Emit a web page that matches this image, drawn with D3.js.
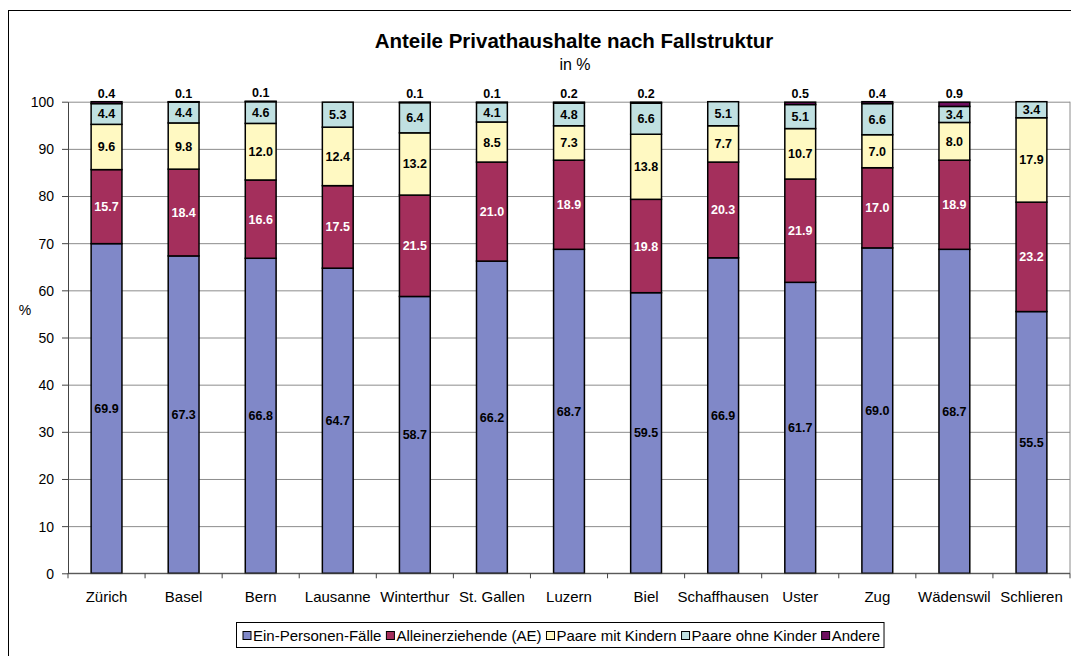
<!DOCTYPE html>
<html>
<head>
<meta charset="utf-8">
<script src="https://cdn.jsdelivr.net/npm/d3@7"></script>
<style>
  body { margin: 0; background: #fff; }
  svg { font-family: Arial, "Liberation Sans", sans-serif; }
  .grid line { stroke: #8c8c8c; }
  .grid path { display: none; }
  .axis path, .axis line { stroke: #444; }
  .axis text { font-size: 14px; fill: #000; }
  .axis text.xlabel { font-size: 15px; }
  .barlabel { font-size: 12.5px; font-weight: bold; text-anchor: middle; }
</style>
</head>
<body>
<div id="chart"></div>
<script>
// values (in %)
var cities = ["Zürich", "Basel", "Bern", "Lausanne", "Winterthur", "St. Gallen", "Luzern",
  "Biel", "Schaffhausen", "Uster", "Zug", "Wädenswil", "Schlieren"];
var einPersonen = [69.9, 67.3, 66.8, 64.7, 58.7, 66.2, 68.7, 59.5, 66.9, 61.7, 69.0, 68.7, 55.5];
var alleinerziehende = [15.7, 18.4, 16.6, 17.5, 21.5, 21.0, 18.9, 19.8, 20.3, 21.9, 17.0, 18.9, 23.2];
var paareMitKindern = [9.6, 9.8, 12.0, 12.4, 13.2, 8.5, 7.3, 13.8, 7.7, 10.7, 7.0, 8.0, 17.9];
var paareOhneKinder = [4.4, 4.4, 4.6, 5.3, 6.4, 4.1, 4.8, 6.6, 5.1, 5.1, 6.6, 3.4, 3.4];
var andere = [0.4, 0.1, 0.1, null, 0.1, 0.1, 0.2, 0.2, null, 0.5, 0.4, 0.9, null];

var seriesNames = ["Ein-Personen-Fälle", "Alleinerziehende (AE)", "Paare mit Kindern",
  "Paare ohne Kinder", "Andere"];
var seriesColors = ["#8088c8", "#a42f5c", "#fff9c2", "#c0e0e1", "#6e0f5f"];
var labelColors = ["#000", "#fff", "#000", "#000", "#000"];
var yTicks = [0, 10, 20, 30, 40, 50, 60, 70, 80, 90, 100];

var width = 1071, height = 656;
var plot = { left: 68, right: 1070, top: 101.7, bottom: 573.3 };

var keys = ["s0", "s1", "s2", "s3", "s4"];
var rows = cities.map(function (c, i) {
  return {
    city: c,
    s0: einPersonen[i],
    s1: alleinerziehende[i],
    s2: paareMitKindern[i],
    s3: paareOhneKinder[i],
    s4: andere[i] == null ? 0 : andere[i],
    raw4: andere[i]
  };
});

var svg = d3.select("#chart").append("svg")
  .attr("width", width)
  .attr("height", height);

// outer chart frame
svg.append("rect")
  .attr("x", 8.5).attr("y", 10.5)
  .attr("width", 1100).attr("height", 700)
  .attr("fill", "none").attr("stroke", "#000");

var x = d3.scaleBand()
  .domain(cities)
  .range([plot.left, plot.right])
  .paddingInner(0.6)
  .paddingOuter(0.3);

var y = d3.scaleLinear().domain([0, 100]).range([plot.bottom, plot.top]);

// gridlines
svg.append("g")
  .attr("class", "grid")
  .attr("transform", "translate(" + plot.left + ",0)")
  .call(d3.axisLeft(y).tickValues(yTicks).tickSize(-(plot.right - plot.left)).tickFormat(""));

// plot area border on the right
svg.append("line")
  .attr("x1", plot.right).attr("x2", plot.right)
  .attr("y1", y(100)).attr("y2", y(0))
  .attr("stroke", "#8c8c8c");

// stacked bars
var stacked = d3.stack().keys(keys)(rows);

var groups = svg.selectAll("g.series")
  .data(stacked)
  .enter()
  .append("g")
  .attr("class", "series")
  .attr("fill", function (d, i) { return seriesColors[i]; });

groups.selectAll("rect")
  .data(function (d) { return d.filter(function (v) { return v[1] - v[0] > 0; }); })
  .enter()
  .append("rect")
  .attr("x", function (d) { return x(d.data.city); })
  .attr("y", function (d) { return y(d[1]); })
  .attr("width", x.bandwidth())
  .attr("height", function (d) { return y(d[0]) - y(d[1]); })
  .attr("stroke", "#000")
  .attr("stroke-width", 1.5);

// value labels
groups.each(function (s, i) {
  d3.select(this).selectAll("text")
    .data(s.filter(function (v) { return i < 4 || v.data.raw4 != null; }))
    .enter()
    .append("text")
    .attr("class", "barlabel")
    .attr("fill", labelColors[i])
    .attr("x", function (d) { return x(d.data.city) + x.bandwidth() / 2; })
    .attr("y", function (d) {
      if (i === 4) return y(d[1]) - 4;
      return y((d[0] + d[1]) / 2) + 4.5;
    })
    .text(function (d) { return (d[1] - d[0]).toFixed(1); });
});

// y axis
svg.append("g")
  .attr("class", "axis")
  .attr("transform", "translate(" + plot.left + ",0)")
  .call(d3.axisLeft(y).tickValues(yTicks).tickSize(6).tickPadding(8).tickSizeOuter(0))
  .selectAll("text").attr("dy", "0.35em");

// x axis: baseline, ticks between categories, labels centered
var xAxis = svg.append("g").attr("class", "axis");
xAxis.append("line")
  .attr("x1", plot.left).attr("x2", plot.right)
  .attr("y1", y(0)).attr("y2", y(0));
xAxis.selectAll("line.tick")
  .data(cities.concat(["end"]))
  .enter()
  .append("line")
  .attr("class", "tick")
  .attr("x1", function (d, i) { return plot.left + i * x.step(); })
  .attr("x2", function (d, i) { return plot.left + i * x.step(); })
  .attr("y1", y(0)).attr("y2", y(0) + 5);
xAxis.selectAll("text")
  .data(cities)
  .enter()
  .append("text")
  .attr("class", "xlabel")
  .attr("x", function (d) { return x(d) + x.bandwidth() / 2; })
  .attr("y", 602)
  .attr("text-anchor", "middle")
  .text(function (d) { return d; });

svg.append("text")
  .attr("x", 25).attr("y", 315)
  .attr("text-anchor", "middle")
  .style("font-size", "14px")
  .text("%");

// title
svg.append("text")
  .attr("x", 574).attr("y", 48)
  .attr("text-anchor", "middle")
  .style("font-size", "20.5px").style("font-weight", "bold")
  .text("Anteile Privathaushalte nach Fallstruktur");
svg.append("text")
  .attr("x", 575).attr("y", 70)
  .attr("text-anchor", "middle")
  .style("font-size", "16px")
  .text("in %");

// legend
var legend = svg.append("g");
var legendBox = legend.append("rect")
  .attr("fill", "#fff").attr("stroke", "#000");
var lx = 243;
seriesNames.forEach(function (name, i) {
  legend.append("rect")
    .attr("x", lx).attr("y", 631.5)
    .attr("width", 8).attr("height", 8)
    .attr("fill", seriesColors[i]).attr("stroke", "#000");
  var t = legend.append("text")
    .attr("x", lx + 10).attr("y", 640.5)
    .style("font-size", "15px")
    .text(name);
  lx += 10 + t.node().getComputedTextLength() + 5;
});
legendBox
  .attr("x", 236.5).attr("y", 622.5)
  .attr("width", lx - 236.5 - 1).attr("height", 25);
</script>
</body>
</html>
